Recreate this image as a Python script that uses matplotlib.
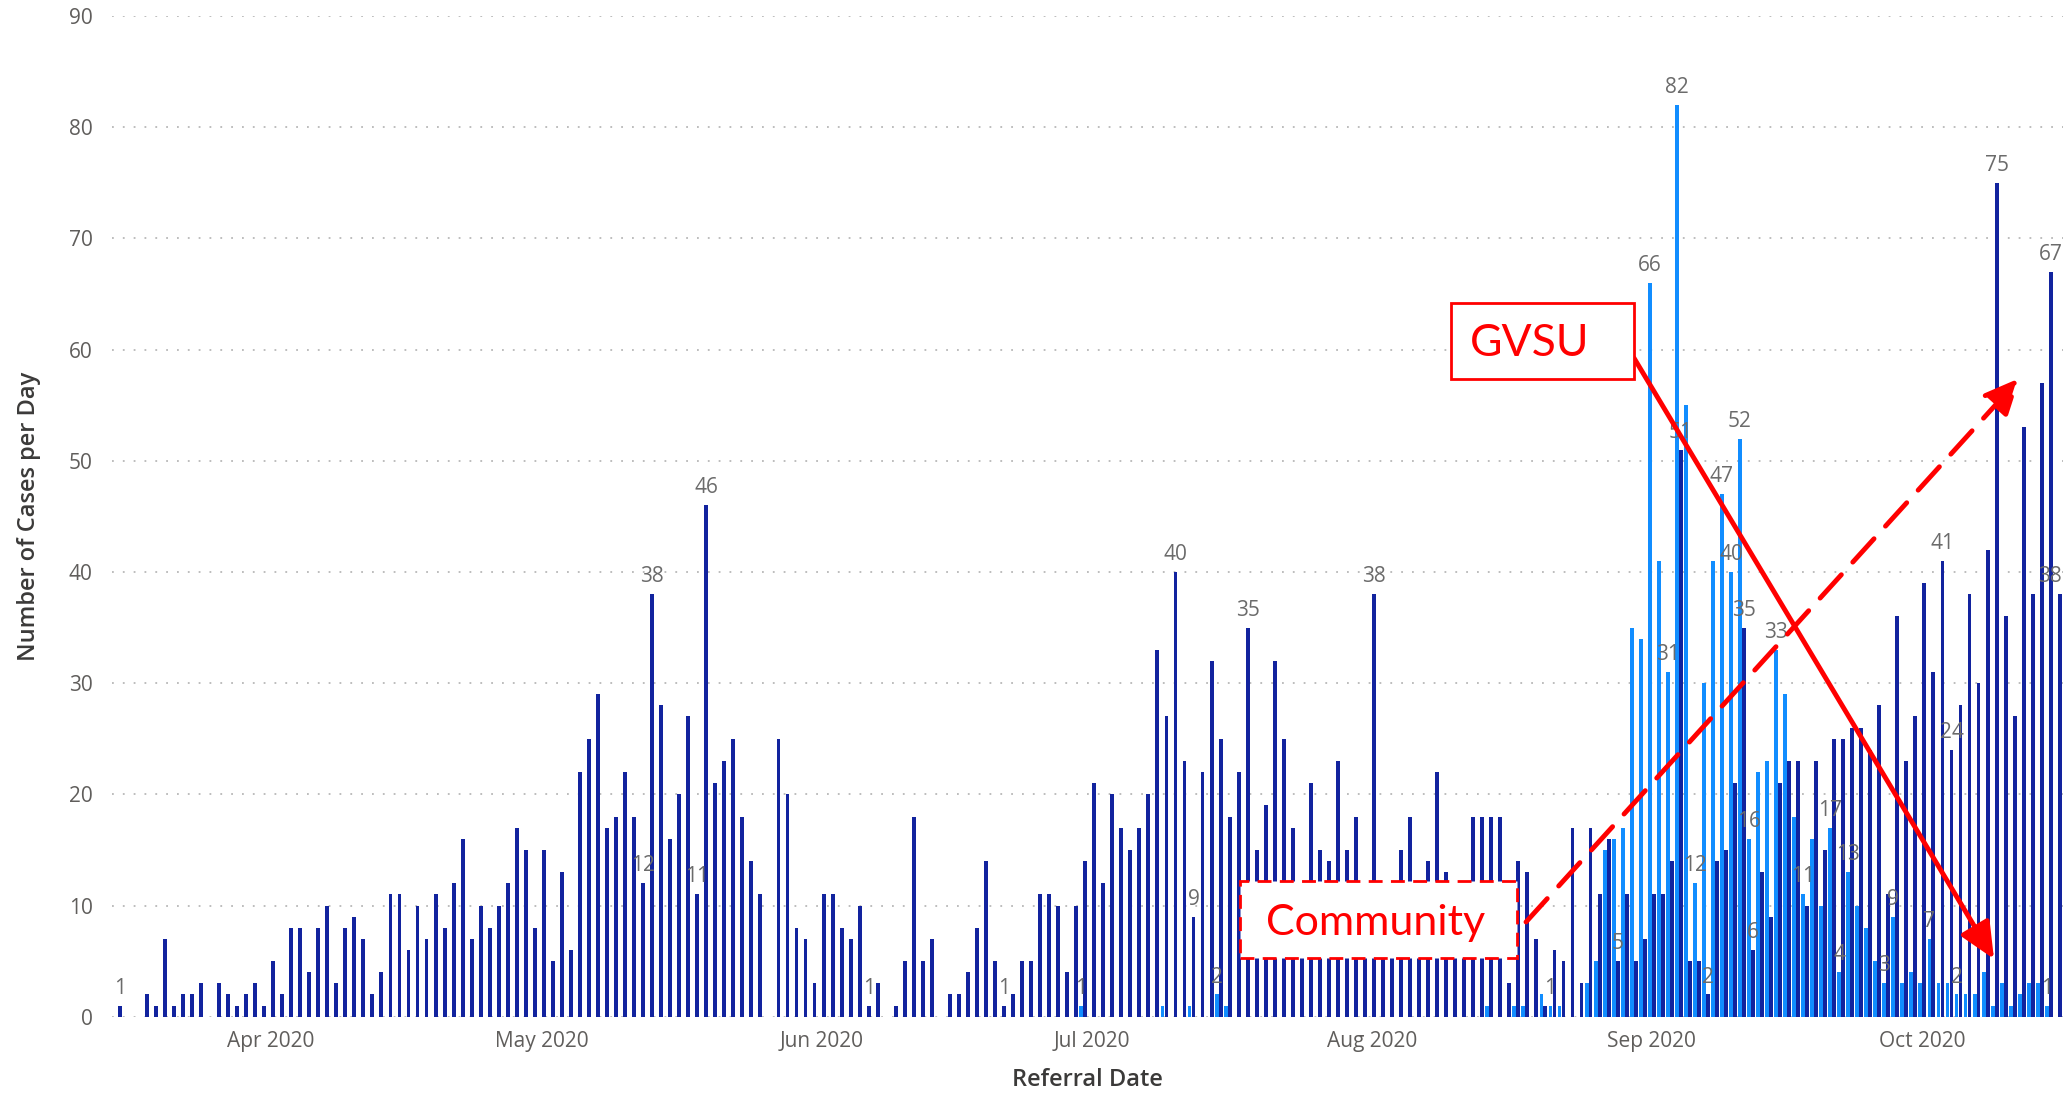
import numpy as np
import matplotlib.pyplot as plt
import matplotlib.dates as mdates
from matplotlib.patches import Rectangle

# daily referrals from 15 Mar 2020 to 16 Oct 2020
start = np.datetime64('2020-03-15')

community = [
    1, 0, 0, 2, 1, 7, 1, 2, 2, 3, 0, 3, 2, 1, 2, 3, 1, 5, 2, 8,
    8, 4, 8, 10, 3, 8, 9, 7, 2, 4, 11, 11, 6, 10, 7, 11, 8, 12, 16, 7,
    10, 8, 10, 12, 17, 15, 8, 15, 5, 13, 6, 22, 25, 29, 17, 18, 22, 18, 12, 38,
    28, 16, 20, 27, 11, 46, 21, 23, 25, 18, 14, 11, 0, 25, 20, 8, 7, 3, 11, 11,
    8, 7, 10, 1, 3, 0, 1, 5, 18, 5, 7, 0, 2, 2, 4, 8, 14, 5, 1, 2,
    5, 5, 11, 11, 10, 4, 10, 14, 21, 12, 20, 17, 15, 17, 20, 33, 27, 40, 23, 9,
    22, 32, 25, 18, 22, 35, 15, 19, 32, 25, 17, 10, 21, 15, 14, 23, 15, 18, 9, 38,
    6, 11, 15, 18, 10, 14, 22, 13, 8, 7, 18, 18, 18, 18, 3, 14, 13, 7, 1, 6,
    5, 17, 3, 17, 11, 16, 5, 11, 5, 7, 11, 11, 14, 51, 5, 5, 2, 14, 15, 21,
    35, 6, 13, 9, 21, 23, 23, 10, 23, 15, 25, 25, 26, 26, 24, 28, 11, 36, 23, 27,
    39, 31, 41, 24, 28, 38, 30, 42, 75, 36, 27, 53, 38, 57, 67, 38,
]

gvsu = [
    0, 0, 0, 0, 0, 0, 0, 0, 0, 0, 0, 0, 0, 0, 0, 0, 0, 0, 0, 0,
    0, 0, 0, 0, 0, 0, 0, 0, 0, 0, 0, 0, 0, 0, 0, 0, 0, 0, 0, 0,
    0, 0, 0, 0, 0, 0, 0, 0, 0, 0, 0, 0, 0, 0, 0, 0, 0, 0, 0, 0,
    0, 0, 0, 0, 0, 0, 0, 0, 0, 0, 0, 0, 0, 0, 0, 0, 0, 0, 0, 0,
    0, 0, 0, 0, 0, 0, 0, 0, 0, 0, 0, 0, 0, 0, 0, 0, 0, 0, 0, 0,
    0, 0, 0, 0, 0, 0, 0, 1, 0, 0, 0, 0, 0, 0, 0, 0, 1, 0, 0, 1,
    0, 0, 2, 1, 0, 0, 0, 0, 0, 0, 0, 0, 0, 0, 0, 0, 0, 0, 0, 0,
    0, 0, 0, 0, 0, 0, 0, 0, 0, 0, 0, 0, 1, 0, 0, 1, 1, 0, 2, 1,
    1, 0, 0, 3, 5, 15, 16, 17, 35, 34, 66, 41, 31, 82, 55, 12, 30, 41, 47, 40,
    52, 16, 22, 23, 33, 29, 18, 11, 16, 10, 17, 4, 13, 10, 8, 5, 3, 9, 3, 4,
    3, 7, 3, 3, 2, 2, 2, 4, 1, 3, 1, 2, 3, 3, 1, 0,
]

# bars that carry a data label in the original
community_labelled = ['2020-03-15', '2020-05-12', '2020-05-13', '2020-05-18', '2020-05-19',
                      '2020-06-06', '2020-06-21', '2020-07-10', '2020-07-12', '2020-07-18',
                      '2020-08-01', '2020-08-28', '2020-09-04', '2020-09-07', '2020-09-11',
                      '2020-09-12', '2020-10-03', '2020-10-04', '2020-10-09', '2020-10-15',
                      '2020-10-16']
gvsu_labelled = ['2020-06-30', '2020-07-15', '2020-08-21', '2020-09-01', '2020-09-03',
                 '2020-09-04', '2020-09-06', '2020-09-09', '2020-09-10', '2020-09-11',
                 '2020-09-12', '2020-09-15', '2020-09-18', '2020-09-21', '2020-09-22',
                 '2020-09-23', '2020-09-27', '2020-09-28', '2020-10-02', '2020-10-05',
                 '2020-10-15']

month_ticks = ['2020-04-01', '2020-05-01', '2020-06-01', '2020-07-01',
               '2020-08-01', '2020-09-01', '2020-10-01']

dark = '#12239E'
light = '#118DFF'
grey = '#605E5C'

plt.rcParams['font.family'] = ['Open Sans', 'DejaVu Sans']

dates = start + np.arange(len(community))
x = mdates.date2num(dates)
t0 = mdates.date2num(start)

W, H = 2066, 1094
fig = plt.figure(figsize=(W / 100, H / 100), dpi=100)
ax = fig.add_axes([112 / W, 77.3 / H, 1951 / W, 1000.7 / H])

bw = 0.43
ax.bar(x - 0.2, gvsu, width=bw, color=light, zorder=2)
ax.bar(x + 0.24, community, width=bw, color=dark, zorder=2)


def label(days, values, off):
    for d in days:
        i = int((np.datetime64(d) - start).astype(int))
        dx = -7 if i == len(values) - 1 else 0
        ax.annotate(str(values[i]), (x[i] + off, values[i]), xytext=(dx, 5),
                    textcoords='offset points', ha='center', va='bottom',
                    fontsize=15, color='#6b6b6b', zorder=3)


label(community_labelled, community, 0.24)
label(gvsu_labelled, gvsu, -0.2)

ax.set_ylim(0, 90)
ax.set_yticks(range(0, 91, 10))
ax.set_xlim(t0 - 0.62, t0 + 215.6)
ax.set_xticks(mdates.date2num(np.array(month_ticks, dtype='datetime64[D]')))
ax.xaxis.set_major_formatter(mdates.DateFormatter('%b %Y'))
ax.grid(axis='y', linestyle=(0, (1, 5)), color='#b8b8b8', linewidth=1.3, zorder=0)
ax.set_axisbelow(True)
for s in ax.spines.values():
    s.set_visible(False)
ax.tick_params(length=0, labelsize=15, labelcolor=grey)
ax.tick_params(axis='y', pad=14)
ax.tick_params(axis='x', pad=10)
ax.set_xlabel('Referral Date', fontsize=17, color='#3b3a39', labelpad=12,
              fontweight='semibold')
ax.set_ylabel('Number of Cases per Day', fontsize=17, color='#3b3a39', labelpad=20,
              fontweight='semibold')


# red call-out boxes and arrows, placed in image pixels
def fx(px):
    return px / W


def fy(py):
    return (H - py) / H


fig.add_artist(Rectangle((fx(1451), fy(379)), 183 / W, 76 / H, transform=fig.transFigure,
                         facecolor='white', edgecolor='red', linewidth=2, zorder=5))
fig.text(fx(1530), fy(343), 'GVSU', color='red', fontsize=32, family='Lato',
         ha='center', va='center', zorder=6)

fig.add_artist(Rectangle((fx(1240), fy(958)), 277 / W, 77 / H, transform=fig.transFigure,
                         facecolor='white', edgecolor='red', linewidth=2,
                         linestyle=(0, (5, 3)), zorder=5))
fig.text(fx(1376), fy(923), 'Community', color='red', fontsize=31, family='Lato',
         ha='center', va='center', zorder=6)

ax.annotate('', xy=(1994, H - 959), xytext=(1634, H - 358),
            xycoords='figure pixels', textcoords='figure pixels',
            arrowprops=dict(arrowstyle='-|>,head_length=1.1,head_width=0.5',
                            color='red', lw=3.5, mutation_scale=20,
                            shrinkA=0, shrinkB=0), zorder=7)
ax.annotate('', xy=(2020, H - 378), xytext=(1526, H - 922),
            xycoords='figure pixels', textcoords='figure pixels',
            arrowprops=dict(arrowstyle='-|>,head_length=1.1,head_width=0.5',
                            color='red', lw=3.5, mutation_scale=20,
                            linestyle=(0, (6.5, 3.5)), shrinkA=0, shrinkB=0), zorder=7)

fig.savefig('out.png', dpi=100)
